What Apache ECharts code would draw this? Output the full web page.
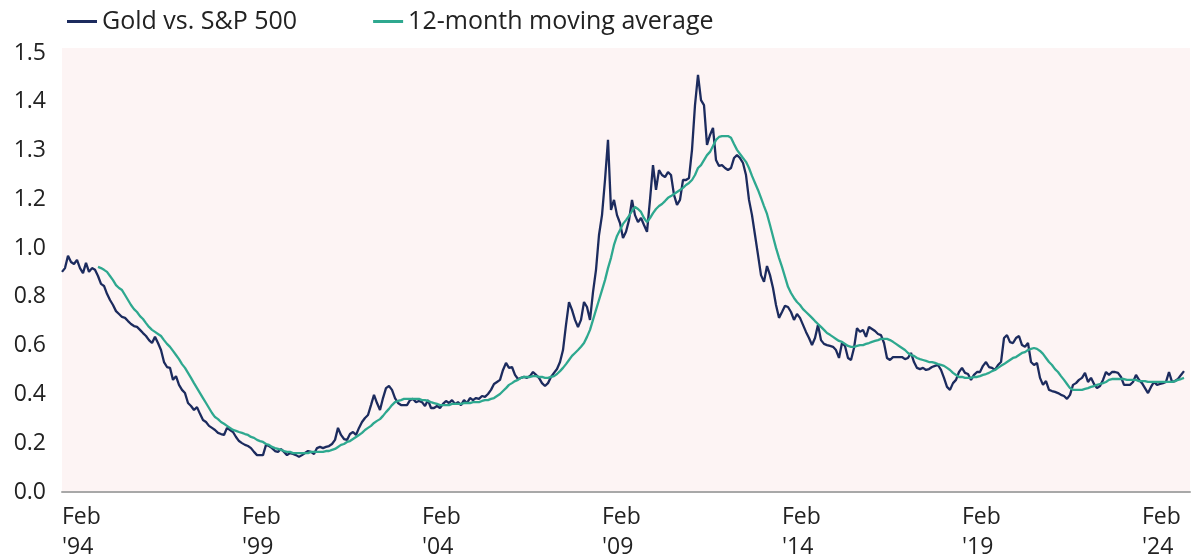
<!DOCTYPE html>
<html>
<head>
<meta charset="utf-8">
<script src="https://cdn.jsdelivr.net/npm/echarts@6/dist/echarts.min.js"></script>
<style>
  html, body { margin: 0; padding: 0; background: #ffffff; }
  #chart { width: 1200px; height: 556px; }
</style>
</head>
<body>
<div id="chart"></div>
<script>
// Monthly categories, Feb 1994 onward (two trailing empty months pad the axis)
const startYear = 1994, startMonth = 1; // 0-based month: 1 = Feb
const monthCount = 377;
const monthNames = ['Jan','Feb','Mar','Apr','May','Jun','Jul','Aug','Sep','Oct','Nov','Dec'];
const categories = [];
for (let i = 0; i < monthCount; i++) {
  const m = (startMonth + i) % 12;
  const y = startYear + Math.floor((startMonth + i) / 12);
  categories.push(monthNames[m] + " '" + String(y).slice(2));
}

// Gold vs. S&P 500 ratio (monthly, Feb 1994 ->)
const goldVsSpx = [
  0.752,0.765,0.807,0.786,0.779,0.793,0.765,0.748,0.783,0.752,0.765,0.759,
  0.738,0.711,0.704,0.677,0.656,0.639,0.618,0.608,0.598,0.595,0.584,0.574,
  0.567,0.564,0.554,0.543,0.533,0.519,0.509,0.530,0.509,0.485,0.444,0.427,
  0.424,0.383,0.396,0.366,0.349,0.338,0.304,0.294,0.280,0.290,0.267,0.246,
  0.239,0.226,0.219,0.212,0.202,0.198,0.195,0.219,0.212,0.205,0.188,0.174,
  0.167,0.161,0.157,0.150,0.137,0.126,0.126,0.126,0.161,0.157,0.150,0.140,
  0.137,0.147,0.137,0.126,0.133,0.130,0.126,0.120,0.126,0.133,0.140,0.137,
  0.130,0.150,0.154,0.150,0.154,0.157,0.164,0.178,0.219,0.195,0.181,0.178,
  0.198,0.205,0.195,0.219,0.239,0.253,0.263,0.297,0.332,0.304,0.280,0.321,
  0.355,0.362,0.349,0.321,0.304,0.297,0.297,0.297,0.314,0.318,0.307,0.311,
  0.307,0.294,0.314,0.287,0.287,0.294,0.287,0.301,0.311,0.304,0.314,0.301,
  0.307,0.297,0.314,0.304,0.321,0.314,0.321,0.318,0.328,0.325,0.335,0.349,
  0.369,0.376,0.383,0.417,0.441,0.424,0.427,0.400,0.386,0.390,0.393,0.390,
  0.396,0.410,0.400,0.390,0.372,0.362,0.372,0.393,0.407,0.420,0.444,0.485,
  0.571,0.649,0.622,0.588,0.564,0.588,0.649,0.632,0.588,0.683,0.759,0.878,
  0.946,1.066,1.203,0.964,0.998,0.946,0.919,0.868,0.889,0.929,0.998,0.946,
  0.922,0.936,0.912,0.889,0.998,1.117,1.032,1.100,1.083,1.076,1.093,1.083,
  1.015,0.981,0.998,1.066,1.066,1.073,1.169,1.322,1.425,1.339,1.322,1.186,
  1.220,1.244,1.134,1.114,1.117,1.107,1.100,1.107,1.141,1.151,1.141,1.124,
  1.083,0.998,0.946,0.878,0.810,0.741,0.718,0.772,0.741,0.697,0.639,0.595,
  0.615,0.636,0.632,0.615,0.588,0.608,0.595,0.571,0.547,0.526,0.502,0.526,
  0.571,0.519,0.506,0.502,0.499,0.496,0.485,0.458,0.509,0.499,0.458,0.451,
  0.492,0.560,0.547,0.554,0.530,0.564,0.557,0.550,0.540,0.536,0.509,0.458,
  0.451,0.461,0.461,0.461,0.461,0.454,0.458,0.475,0.444,0.424,0.420,0.424,
  0.417,0.420,0.427,0.431,0.434,0.417,0.390,0.359,0.349,0.372,0.383,0.410,
  0.424,0.407,0.403,0.383,0.400,0.410,0.410,0.431,0.444,0.427,0.424,0.417,
  0.434,0.444,0.526,0.536,0.512,0.509,0.526,0.533,0.502,0.496,0.509,0.444,
  0.434,0.441,0.390,0.366,0.379,0.349,0.345,0.342,0.338,0.332,0.328,0.318,
  0.332,0.366,0.372,0.383,0.390,0.407,0.376,0.390,0.369,0.355,0.362,0.383,
  0.410,0.400,0.410,0.410,0.407,0.393,0.366,0.366,0.366,0.376,0.400,0.383,
  0.372,0.355,0.338,0.359,0.376,0.366,0.369,0.372,0.376,0.410,0.376,0.379,
  0.386,0.400,0.413
];

// 12-month moving average (first 12 months have no value)
const movingAvg = [
  null,null,null,null,null,null,null,null,null,null,null,null,
  0.769,0.765,0.759,0.752,0.738,0.724,0.707,0.697,0.690,0.673,0.656,0.639,
  0.625,0.615,0.601,0.591,0.577,0.564,0.554,0.547,0.540,0.533,0.519,0.506,
  0.496,0.482,0.468,0.454,0.437,0.424,0.407,0.390,0.372,0.355,0.338,0.321,
  0.304,0.287,0.270,0.256,0.249,0.239,0.233,0.226,0.219,0.212,0.209,0.205,
  0.202,0.198,0.195,0.188,0.185,0.178,0.174,0.171,0.164,0.161,0.154,0.150,
  0.147,0.144,0.140,0.137,0.137,0.133,0.133,0.133,0.133,0.133,0.133,0.137,
  0.137,0.137,0.137,0.137,0.140,0.140,0.144,0.147,0.154,0.161,0.164,0.171,
  0.174,0.181,0.188,0.195,0.202,0.212,0.219,0.226,0.236,0.243,0.249,0.260,
  0.273,0.284,0.297,0.307,0.311,0.314,0.318,0.318,0.318,0.318,0.318,0.318,
  0.314,0.314,0.311,0.307,0.304,0.301,0.297,0.297,0.297,0.297,0.301,0.301,
  0.301,0.301,0.304,0.304,0.304,0.307,0.307,0.307,0.311,0.314,0.314,0.318,
  0.321,0.328,0.335,0.345,0.355,0.366,0.372,0.379,0.383,0.390,0.393,0.393,
  0.393,0.396,0.396,0.393,0.393,0.390,0.390,0.393,0.396,0.403,0.413,0.424,
  0.437,0.451,0.465,0.475,0.485,0.496,0.509,0.530,0.554,0.588,0.622,0.656,
  0.690,0.724,0.765,0.800,0.844,0.875,0.895,0.916,0.929,0.943,0.960,0.974,
  0.967,0.957,0.936,0.922,0.936,0.953,0.967,0.977,0.984,0.994,1.005,1.011,
  1.018,1.025,1.032,1.039,1.049,1.056,1.066,1.083,1.107,1.117,1.134,1.151,
  1.162,1.182,1.203,1.213,1.216,1.216,1.216,1.210,1.189,1.169,1.155,1.141,
  1.128,1.107,1.080,1.056,1.032,1.005,0.977,0.950,0.912,0.873,0.834,0.800,
  0.769,0.735,0.701,0.680,0.663,0.649,0.639,0.625,0.615,0.605,0.595,0.584,
  0.574,0.564,0.554,0.543,0.537,0.530,0.523,0.516,0.513,0.506,0.499,0.496,
  0.496,0.499,0.502,0.502,0.506,0.509,0.513,0.516,0.519,0.523,0.523,0.523,
  0.519,0.513,0.506,0.499,0.492,0.485,0.475,0.468,0.465,0.458,0.454,0.451,
  0.448,0.444,0.444,0.441,0.437,0.434,0.431,0.424,0.417,0.407,0.400,0.393,
  0.393,0.390,0.390,0.390,0.393,0.393,0.396,0.400,0.403,0.407,0.413,0.417,
  0.424,0.431,0.437,0.444,0.451,0.458,0.461,0.468,0.475,0.478,0.485,0.489,
  0.492,0.489,0.482,0.472,0.458,0.444,0.434,0.420,0.410,0.396,0.383,0.369,
  0.355,0.349,0.349,0.349,0.349,0.352,0.355,0.359,0.362,0.366,0.369,0.372,
  0.376,0.383,0.386,0.386,0.386,0.386,0.386,0.383,0.383,0.383,0.383,0.379,
  0.379,0.379,0.376,0.376,0.376,0.376,0.376,0.376,0.376,0.376,0.376,0.379,
  0.383,0.386,0.390
];

// Y-axis tick labels as printed on the original (10 evenly spaced ticks)
const yTickLabels = ['0.0','0.2','0.4','0.6','0.8','1.0','1.2','1.3','1.4','1.5'];
const yStep = 1.5 / (yTickLabels.length - 1);
const yAxisTop = 1.517; // plot area extends a few pixels above the top tick

const FONT = '"Open Sans", "Noto Sans", sans-serif';
const NAVY = '#1c2b5e';
const TEAL = '#2ea88f';

const chart = echarts.init(document.getElementById('chart'));
chart.setOption({
  animation: false,
  textStyle: { fontFamily: FONT },
  legend: {
    left: 62, top: 4,
    itemWidth: 30, itemHeight: 3, itemGap: 76,
    icon: 'rect',
    textStyle: { fontSize: 25, color: '#222', fontFamily: FONT, padding: [0, 0, 0, 0] },
    data: [
      { name: 'Gold vs. S&P 500', itemStyle: { color: NAVY } },
      { name: '12-month moving average', itemStyle: { color: TEAL } }
    ]
  },
  grid: {
    left: 62, right: 10, top: 48, bottom: 64,
    outerBoundsMode: 'none',
    containLabel: false,
    show: true, backgroundColor: '#fdf4f4', borderWidth: 0
  },
  xAxis: {
    type: 'category',
    data: categories,
    boundaryGap: false,
    axisLine: { lineStyle: { color: '#a8a8a8', width: 2 } },
    axisTick: { show: false },
    splitLine: { show: false },
    axisLabel: {
      interval: (idx) => idx % 60 === 0,
      align: 'left',
      margin: 10,
      fontSize: 23,
      lineHeight: 30,
      color: '#222',
      fontFamily: FONT,
      formatter: (val) => val.replace(' ', '\n')
    }
  },
  yAxis: {
    type: 'value',
    min: 0, max: yAxisTop, interval: yStep,
    axisLine: { show: false },
    axisTick: { show: false },
    splitLine: { show: false },
    axisLabel: {
      margin: 16,
      fontSize: 23,
      color: '#222',
      fontFamily: FONT,
      showMaxLabel: false,
      formatter: (v) => {
        const k = Math.round(v / yStep);
        return Math.abs(v / yStep - k) < 1e-6 ? yTickLabels[k] : '';
      }
    }
  },
  series: [
    {
      name: 'Gold vs. S&P 500', type: 'line', data: goldVsSpx,
      showSymbol: false, symbol: 'none',
      lineStyle: { color: NAVY, width: 2.3 }, itemStyle: { color: NAVY },
      z: 2
    },
    {
      name: '12-month moving average', type: 'line', data: movingAvg,
      showSymbol: false, symbol: 'none', connectNulls: false,
      lineStyle: { color: TEAL, width: 2.3 }, itemStyle: { color: TEAL },
      z: 3
    }
  ]
});
</script>
</body>
</html>
